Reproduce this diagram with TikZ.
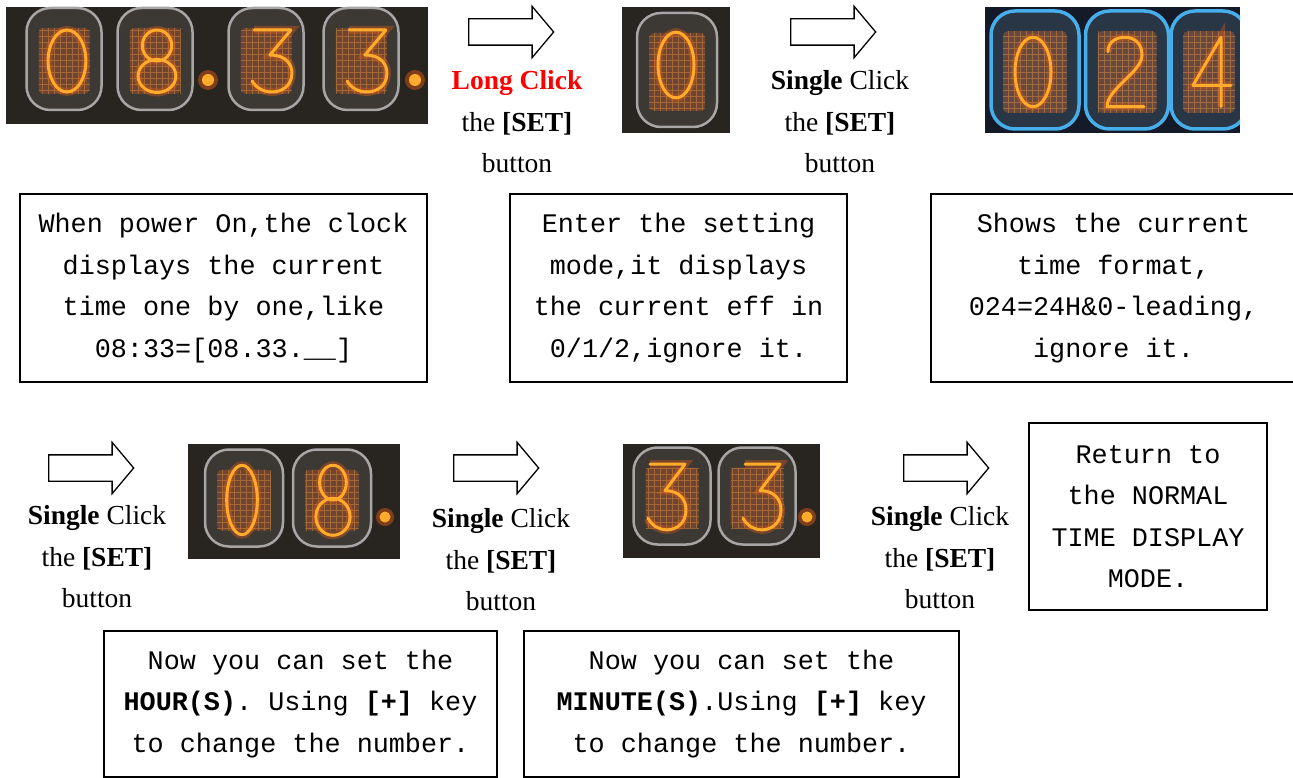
\documentclass[tikz,border=0pt]{standalone}
\usepackage{fontspec}
\setmainfont{Liberation Serif}
\setmonofont{Liberation Mono}
\usetikzlibrary{shapes.arrows}

\definecolor{photobg}{RGB}{40,36,32}
\definecolor{bluebg}{RGB}{20,26,40}
\definecolor{nixiecol}{RGB}{255,172,45}
\definecolor{glowcol}{RGB}{235,95,20}
\definecolor{meshcol}{RGB}{115,55,32}
\definecolor{rimblue}{RGB}{70,175,235}

\tikzset{
    stepbox/.style={draw, line width=1.5pt, align=center, inner sep=0pt,
        font=\ttfamily\fontsize{26.8}{41.5}\selectfont},
    clicklabel/.style={align=center, inner sep=0pt, font=\fontsize{27.5}{41.5}\selectfont},
    blockarrow/.style={draw, line width=1.3pt, shape=single arrow, anchor=tail,
        minimum height=85pt, inner sep=12.5pt, single arrow head extend=12.5pt,
        single arrow tip angle=100},
    glass/.style={draw=gray!70, line width=2.5pt, fill=gray!60, fill opacity=.15, rounded corners=24pt},
    blueglass/.style={glass, draw=rimblue, line width=3.5pt, fill=rimblue!50},
    meshline/.style={draw=orange!60!brown, line width=.3pt, opacity=.5},
    nixie/.style={draw=nixiecol, line width=3pt, line cap=round, line join=round,
        preaction={draw=glowcol, line width=8pt, draw opacity=.35}}
}

\newcommand{\nixietube}[5][glass]{%
    \fill[meshcol, opacity=.75, rounded corners=5pt] ({#2-#4/2+12},{#3-#5/2+16}) rectangle ({#2+#4/2-12},{#3+#5/2-20});
    \draw[meshline, step=6] ({#2-#4/2+12},{#3-#5/2+16}) grid ({#2+#4/2-12},{#3+#5/2-20});
    \draw[#1] ({#2-#4/2},{#3-#5/2}) rectangle ({#2+#4/2},{#3+#5/2});
}

\newcommand{\nixiedigit}[1]{%
    \ifcase#1
        \draw[nixie] (0,0) ellipse [x radius=18, y radius=31];
    \or\or
        \draw[nixie] (-17,18) .. controls (-17,27) and (-9,31) .. (0,31) .. controls (10,31) and (17,25) .. (17,15)
            .. controls (17,0) and (-18,-15) .. (-18,-31) -- (19,-31);
    \or
        \draw[nixie] (-17,31) -- (18,31) -- (-2,6) .. controls (14,6) and (19,-4) .. (19,-12)
            .. controls (19,-26) and (8,-31) .. (0,-31) .. controls (-8,-31) and (-15,-27) .. (-19,-20);
    \or
        \draw[nixie] (9,-31) -- (9,31) -- (-19,-12) -- (19,-12);
    \or\or\or\or
        \draw[nixie] (0,15.5) ellipse [x radius=14, y radius=15.5] (0,-15) ellipse [x radius=18, y radius=16.5];
    \fi
}

\begin{document}
\begin{tikzpicture}[x=1pt, y=1pt]
    \useasboundingbox (0,0) rectangle (1293,-778);

    \begin{scope}
        \clip (6,-7) rectangle (428,-124);
        \fill[photobg] (6,-7) rectangle (428,-124);
        \foreach \cx/\dx/\dg in {64/67/0,155/157/8,266/272/3,361/367/3} {
            \nixietube{\cx}{-59}{75}{102}
            \begin{scope}[shift={(\dx,-61)}, xscale=1.05]
                \nixiedigit{\dg}
            \end{scope}
        }
        \foreach \cx in {208,415} {
            \fill[glowcol, opacity=.45] (\cx,-80) circle (10);
            \fill[nixiecol] (\cx,-80) circle (6);
        }
    \end{scope}

    \begin{scope}
        \clip (622,-7) rectangle (730,-133);
        \fill[photobg] (622,-7) rectangle (730,-133);
        \nixietube{677}{-70}{80}{114}
        \begin{scope}[shift={(676,-65)}, yscale=1.06]
            \nixiedigit{0}
        \end{scope}
    \end{scope}

    \begin{scope}
        \clip (985,-7) rectangle (1240,-133);
        \fill[bluebg] (985,-7) rectangle (1240,-133);
        \foreach \cx/\w/\dx/\dg in {1035/88/1033/0,1127/83/1125/2,1209/76/1212/4} {
            \nixietube[blueglass]{\cx}{-70}{\w}{118}
            \begin{scope}[shift={(\dx,-72)}, yscale=1.12]
                \nixiedigit{\dg}
            \end{scope}
        }
    \end{scope}

    \begin{scope}
        \clip (188,-444) rectangle (400,-559);
        \fill[photobg] (188,-444) rectangle (400,-559);
        \foreach \cx/\dx/\xs/\dg in {244/242/.85/0,332/333/.95/8} {
            \nixietube{\cx}{-498}{78}{97}
            \begin{scope}[shift={(\dx,-500)}, xscale=\xs, yscale=1.12]
                \nixiedigit{\dg}
            \end{scope}
        }
        \fill[glowcol, opacity=.45] (385,-517) circle (9);
        \fill[nixiecol] (385,-517) circle (5.5);
    \end{scope}

    \begin{scope}
        \clip (623,-444) rectangle (820,-558);
        \fill[photobg] (623,-444) rectangle (820,-558);
        \foreach \cx/\dx in {672/667,757/762} {
            \nixietube{\cx}{-496}{77}{97}
            \begin{scope}[shift={(\dx,-497)}, yscale=1.06]
                \nixiedigit{3}
            \end{scope}
        }
        \fill[glowcol, opacity=.45] (807,-517) circle (9);
        \fill[nixiecol] (807,-517) circle (5.5);
    \end{scope}

    \node[blockarrow] (arr1) at (468,-32) {};
    \node[blockarrow] (arr2) at (790,-32) {};
    \node[blockarrow] (arr3) at (48,-468) {};
    \node[blockarrow] (arr4) at (453,-468) {};
    \node[blockarrow] (arr5) at (903,-468) {};

    \node[clicklabel] (lab1) at (517,-122) {\textcolor{red}{\textbf{Long Click}}\\the \textbf{[SET]}\\button};
    \node[clicklabel] (lab2) at (840,-122) {\textbf{Single} Click\\the \textbf{[SET]}\\button};
    \node[clicklabel] (lab3) at (97,-557) {\textbf{Single} Click\\the \textbf{[SET]}\\button};
    \node[clicklabel] (lab4) at (501,-560) {\textbf{Single} Click\\the \textbf{[SET]}\\button};
    \node[clicklabel] (lab5) at (940,-558) {\textbf{Single} Click\\the \textbf{[SET]}\\button};

    \node[stepbox, minimum width=407pt, minimum height=188pt] (info1) at (223.5,-288)
        {When power On,the clock\\displays the current\\time one by one,like\\08:33=[08.33.\_\_]};
    \node[stepbox, minimum width=337pt, minimum height=188pt] (info2) at (678.5,-288)
        {Enter the setting\\mode,it displays\\the current eff in\\0/1/2,ignore it.};
    \node[stepbox, minimum width=365pt, minimum height=188pt] (info3) at (1113.5,-288)
        {Shows the current\\time format,\\024=24H\&0-leading,\\ignore it.};
    \node[stepbox, minimum width=238pt, minimum height=187pt] (info4) at (1148,-516.5)
        {Return to\\the NORMAL\\TIME DISPLAY\\MODE.};
    \node[stepbox, minimum width=393pt, minimum height=146pt] (info5) at (300.5,-704)
        {Now you can set the\\\textbf{HOUR(S)}. Using \textbf{[+]} key\\to change the number.};
    \node[stepbox, minimum width=435pt, minimum height=146pt] (info6) at (741.5,-704)
        {Now you can set the\\\textbf{MINUTE(S)}.Using \textbf{[+]} key\\to change the number.};
\end{tikzpicture}
\end{document}
